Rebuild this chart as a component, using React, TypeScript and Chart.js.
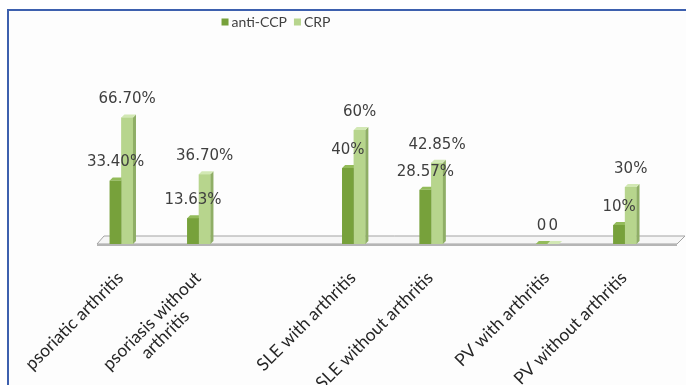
import React, { useEffect, useRef } from "react";
import { Chart, registerables } from "chart.js";

Chart.register(...registerables);

// ---- data (blank entries are empty columns of the original sheet) ----
const categories: (string | string[])[] = [
  "psoriatic arthritis",
  "",
  ["psoriasis without", "arthritis"],
  "",
  "",
  "",
  "SLE with arthritis",
  "",
  "SLE without arthritis",
  "",
  "",
  "PV with arthritis",
  "",
  "PV without arthritis",
  "",
];
const antiCCP = [33.4, null, 13.63, null, null, null, 40, null, 28.57, null, null, 0, null, 10, null];
const crp = [66.7, null, 36.7, null, null, null, 60, null, 42.85, null, null, 0, null, 30, null];
const antiCCPLabels = ["33.40%", null, "13.63%", null, null, null, "40%", null, "28.57%", null, null, "0", null, "10%", null];
const crpLabels = ["66.70%", null, "36.70%", null, null, null, "60%", null, "42.85%", null, null, "0", null, "30%", null];

// ---- styles ----
const CCP_FRONT = "#77a13b";
const CCP_SIDE = "#5a7d2a";
const CCP_TOP = "#93bb5a";
const CRP_FRONT = "#b7d58d";
const CRP_SIDE = "#8fae66";
const CRP_TOP = "#d2e8b4";
const TEXT = "#3f3f3f";
const AXIS_TEXT = "#262626";
const DEPTH = 3;
const AXIS_FONT = "17.5px Lato, 'Open Sans', sans-serif";
const LEGEND_FONT = "14px Lato, 'Open Sans', sans-serif";
const VALUE_FONT = "15px 'DejaVu Sans', sans-serif";

const faces = [
  { front: CCP_FRONT, side: CCP_SIDE, top: CCP_TOP },
  { front: CRP_FRONT, side: CRP_SIDE, top: CRP_TOP },
];
const valueLabels = [antiCCPLabels, crpLabels];

const floorPlugin = {
  id: "floor3d",
  beforeDatasetsDraw(chart: any) {
    const { ctx } = chart;
    const { left, right, bottom } = chart.chartArea;
    ctx.save();
    ctx.beginPath();
    ctx.moveTo(left - 5, bottom);
    ctx.lineTo(right - 6, bottom);
    ctx.lineTo(right + 2, bottom - 8);
    ctx.lineTo(left + 2, bottom - 8);
    ctx.closePath();
    ctx.fillStyle = "#f6f6f6";
    ctx.fill();
    ctx.strokeStyle = "#a3a3a3";
    ctx.lineWidth = 1;
    ctx.stroke();
    ctx.beginPath();
    ctx.moveTo(left - 5, bottom + 1);
    ctx.lineTo(right - 6, bottom + 1);
    ctx.strokeStyle = "#b5b5b5";
    ctx.lineWidth = 2;
    ctx.stroke();
    ctx.restore();
  },
};

const bar3dPlugin = {
  id: "bar3d",
  afterDatasetsDraw(chart: any) {
    const { ctx } = chart;
    ctx.save();
    chart.data.datasets.forEach((ds: any, i: number) => {
      const meta = chart.getDatasetMeta(i);
      const f = faces[i];
      meta.data.forEach((el: any, j: number) => {
        if (ds.data[j] === null || ds.data[j] === undefined) return;
        const p = el.getProps(["x", "y", "base", "width"], true);
        const l = p.x - p.width / 2;
        const r = p.x + p.width / 2;
        ctx.fillStyle = f.front;
        ctx.fillRect(l, p.y, p.width, p.base - p.y);
        ctx.beginPath();
        ctx.moveTo(r, p.y);
        ctx.lineTo(r + DEPTH, p.y - DEPTH);
        ctx.lineTo(r + DEPTH, p.base - DEPTH);
        ctx.lineTo(r, p.base);
        ctx.closePath();
        ctx.fillStyle = f.side;
        ctx.fill();
        ctx.beginPath();
        ctx.moveTo(l, p.y);
        ctx.lineTo(r, p.y);
        ctx.lineTo(r + DEPTH, p.y - DEPTH);
        ctx.lineTo(l + DEPTH, p.y - DEPTH);
        ctx.closePath();
        ctx.fillStyle = f.top;
        ctx.fill();
      });
    });
    ctx.restore();
  },
};

const valueLabelPlugin = {
  id: "valueLabels",
  afterDatasetsDraw(chart: any) {
    const { ctx } = chart;
    ctx.save();
    ctx.font = VALUE_FONT;
    ctx.fillStyle = TEXT;
    ctx.textAlign = "center";
    ctx.textBaseline = "middle";
    chart.data.datasets.forEach((ds: any, i: number) => {
      const meta = chart.getDatasetMeta(i);
      meta.data.forEach((el: any, j: number) => {
        const txt = valueLabels[i][j];
        if (!txt) return;
        const p = el.getProps(["x", "y"], true);
        ctx.fillText(txt, p.x, p.y - 18);
      });
    });
    ctx.restore();
  },
};

const xLabelPlugin = {
  id: "xLabels",
  afterDraw(chart: any) {
    const { ctx } = chart;
    const xs = chart.scales.x;
    const bottom = chart.chartArea.bottom;
    ctx.save();
    ctx.font = AXIS_FONT;
    ctx.fillStyle = AXIS_TEXT;
    ctx.textBaseline = "middle";
    chart.data.labels.forEach((lab: any, i: number) => {
      const lines = Array.isArray(lab) ? lab : [lab];
      if (!lines[0]) return;
      const x = xs.getPixelForValue(i);
      ctx.save();
      ctx.translate(x - 1, bottom + 31);
      ctx.rotate(-Math.PI / 4);
      const w1 = ctx.measureText(lines[0]).width;
      ctx.textAlign = "right";
      ctx.fillText(lines[0], 0, 0);
      ctx.textAlign = "center";
      for (let k = 1; k < lines.length; k++) {
        ctx.fillText(lines[k], -w1 / 2, 19 * k);
      }
      ctx.restore();
    });
    ctx.restore();
  },
};

const legendPlugin = {
  id: "legend3d",
  afterDraw(chart: any) {
    const { ctx } = chart;
    ctx.save();
    ctx.font = LEGEND_FONT;
    ctx.textBaseline = "middle";
    ctx.textAlign = "left";
    const items = chart.data.datasets.map((d: any) => ({
      label: d.label,
      color: d.backgroundColor,
      w: ctx.measureText(d.label).width,
    }));
    const box = 7;
    const gapBox = 3;
    const gapItem = 7;
    const total = items.reduce((s: number, it: any) => s + box + gapBox + it.w, 0) + gapItem * (items.length - 1);
    let x = 276 - total / 2;
    const y = 22;
    items.forEach((it: any) => {
      ctx.fillStyle = it.color;
      ctx.fillRect(x, y - box / 2, box, box);
      x += box + gapBox;
      ctx.fillStyle = TEXT;
      ctx.fillText(it.label, x, y);
      x += it.w + gapItem;
    });
    ctx.restore();
  },
};

export default function App() {
  const ref = useRef<HTMLCanvasElement | null>(null);

  useEffect(() => {
    let chart: Chart | null = null;
    let cancelled = false;
    const make = () => {
      if (cancelled || !ref.current) return;
      chart = new Chart(ref.current, {
        type: "bar",
        data: {
          labels: categories as any,
          datasets: [
            { label: "anti-CCP", data: antiCCP as any, backgroundColor: CCP_FRONT, borderWidth: 0 },
            { label: "CRP", data: crp as any, backgroundColor: CRP_FRONT, borderWidth: 0 },
          ],
        },
        options: {
          responsive: false,
          animation: false,
          events: [],
          layout: { padding: { top: 39, left: 102, right: 3, bottom: 141 } },
          datasets: { bar: { categoryPercentage: 0.6, barPercentage: 1 } } as any,
          scales: {
            x: { display: false, grid: { display: false } },
            y: { display: false, min: 0, max: 108, grid: { display: false } },
          },
          plugins: {
            legend: { display: false },
            tooltip: { enabled: false },
          },
        },
        plugins: [floorPlugin, bar3dPlugin, valueLabelPlugin, xLabelPlugin, legendPlugin],
      });
    };
    const fonts: any = (document as any).fonts;
    if (fonts && fonts.load) {
      Promise.all([fonts.load(AXIS_FONT), fonts.load(LEGEND_FONT), fonts.load(VALUE_FONT)])
        .catch(() => null)
        .then(make);
    } else {
      make();
    }
    return () => {
      cancelled = true;
      if (chart) chart.destroy();
    };
  }, []);

  return (
    <div
      style={{
        position: "fixed",
        left: 0,
        top: 0,
        width: 686,
        height: 385,
        overflow: "hidden",
        background: "#ffffff",
      }}
    >
      <div
        style={{
          position: "absolute",
          left: 7,
          top: 9,
          width: 720,
          height: 420,
          borderTop: "2px solid #3d60ae",
          borderLeft: "2px solid #3d60ae",
          background: "#fdfdfd",
        }}
      />
      <canvas ref={ref} width={686} height={385} style={{ position: "absolute", left: 0, top: 0 }} />
    </div>
  );
}
